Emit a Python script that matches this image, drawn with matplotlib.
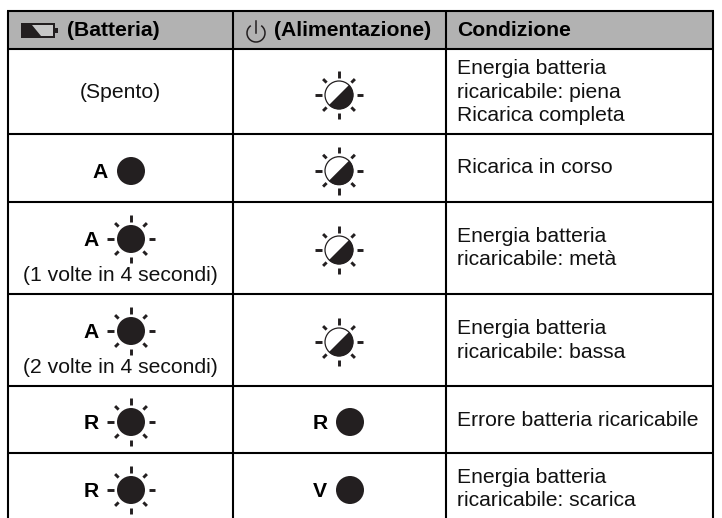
import numpy as np
from matplotlib import pyplot as plt
from matplotlib.patches import Circle, Polygon, Rectangle, Wedge, Arc

plt.rcParams['font.family'] = ['Liberation Sans', 'DejaVu Sans']

# Table contents
headers = ["(Batteria)", "(Alimentazione)", "Condizione"]
battery_notes = ["(Spento)", None, "(1 volte in 4 secondi)", "(2 volte in 4 secondi)", None, None]
battery_letters = [None, "A", "A", "A", "R", "R"]
battery_states = ["off", "on", "blink", "blink", "blink", "blink"]
power_letters = [None, None, None, None, "R", "V"]
power_states = ["half", "half", "half", "half", "on", "on"]
conditions = [["Energia batteria", "ricaricabile: piena", "Ricarica completa"],
              ["Ricarica in corso"],
              ["Energia batteria", "ricaricabile: metà"],
              ["Energia batteria", "ricaricabile: bassa"],
              ["Errore batteria ricaricabile"],
              ["Energia batteria", "ricaricabile: scarica"]]

INK = "#231f20"
FS = 15.2
GREY = "#b2b2b2"

fig = plt.figure(figsize=(7.22, 5.18), dpi=100)
ax = fig.add_axes([0, 0, 1, 1])
ax.set_xlim(0, 722)
ax.set_ylim(518, 0)
ax.axis('off')

# grid
col_x = [8, 233, 446, 713]
row_y = [11, 48.5, 134, 201.5, 294, 385.5, 453, 518]
ax.add_patch(Rectangle((col_x[0], row_y[0]), col_x[-1]-col_x[0], row_y[1]-row_y[0], color=GREY, lw=0))
for x in col_x:
    ax.plot([x, x], [row_y[0], row_y[-1]], color='k', lw=1.5, solid_capstyle='butt')
for y in row_y[:-1]:
    ax.plot([col_x[0]-0.7, col_x[-1]+0.7], [y, y], color='k', lw=1.5, solid_capstyle='butt')


def rays(x, y):
    for a in np.arange(0, 360, 45):
        ca, sa = np.cos(np.radians(a)), np.sin(np.radians(a))
        r0, r1 = (17.5, 24) if a % 90 == 0 else (17.5, 22.5)
        ax.plot([x+r0*ca, x+r1*ca], [y+r0*sa, y+r1*sa], color=INK, lw=2.1, solid_capstyle='butt')


def led(x, y, state):
    if state == "off":
        return
    if state == "half":
        ax.add_patch(Circle((x, y), 14, fc='white', ec=INK, lw=0.9))
        # y axis is inverted, so this wedge is the lower right half
        ax.add_patch(Wedge((x, y), 14.3, -45, 135, fc=INK, ec='none'))
        rays(x, y)
    else:
        ax.add_patch(Circle((x, y), 14, fc=INK, ec='none'))
        if state == "blink":
            rays(x, y)


# header
ax.add_patch(Rectangle((21, 22.5), 34, 15.5, fc=INK, ec='none'))
ax.add_patch(Polygon([(32, 24.5), (52.5, 24.5), (52.5, 35.5), (41, 35.5)], fc='#c8c8c8', ec='none'))
ax.add_patch(Rectangle((55, 28), 3, 5, fc=INK, ec='none'))
ax.add_patch(Arc((256, 33), 18, 18, theta1=-55, theta2=235, color=INK, lw=1.1))
ax.plot([256, 256], [21, 33], color=INK, lw=1.1)
for hx, head in zip([67, 274, 457], headers):
    ax.text(hx, 36, head, fontsize=FS, fontweight='bold', color='k', va='baseline', ha='left')

# rows
batt_icon_y = [91, 171, 239, 331, 422, 490]
batt_note_y = [98, None, 281, 373.3, None, None]
power_icon_y = [95, 170.7, 250, 342, 422, 490]
cond_y = [74, 173, 241.7, 334, 425.7, 482.7]
for i in range(6):
    if battery_notes[i]:
        ax.text(120.4, batt_note_y[i], battery_notes[i], fontsize=FS, color='#111111', ha='center', va='baseline')
    led(131, batt_icon_y[i], battery_states[i])
    if battery_letters[i]:
        lx = 100 if battery_states[i] == "on" else 91
        ax.text(lx, batt_icon_y[i]+6.8, battery_letters[i], fontsize=FS, fontweight='bold', color='k', ha='center', va='baseline')
    px = 339 if power_states[i] == "half" else 350
    led(px, power_icon_y[i], power_states[i])
    if power_letters[i]:
        ax.text(320, power_icon_y[i]+6.8, power_letters[i], fontsize=FS, fontweight='bold', color='k', ha='center', va='baseline')
    for j, line in enumerate(conditions[i]):
        ax.text(457, cond_y[i]+j*23.6, line, fontsize=FS, color='#111111', ha='left', va='baseline')

fig.savefig('out.png', dpi=100)
